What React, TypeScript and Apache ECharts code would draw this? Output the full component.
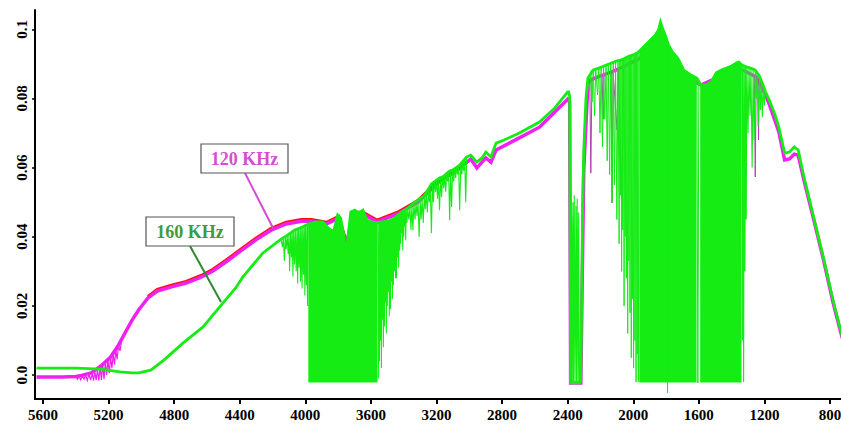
import React, { useEffect, useRef } from "react";
import * as echarts from "echarts";

const X_TICKS = [5600, 5200, 4800, 4400, 4000, 3600, 3200, 2800, 2400, 2000, 1600, 1200, 800];
const Y_TICKS = [0, 0.02, 0.04, 0.06, 0.08, 0.1];
const Y_TICK_LABELS = ["0.0", "0.02", "0.04", "0.06", "0.08", "0.1"];

const LABEL_120 = "120 KHz";
const LABEL_160 = "160 KHz";

type P = [number, number];

// ---- 120 KHz (magenta), main trace ----
const MAGENTA: P[] = [
  [5640, -0.0006], [5482, -0.0006], [5400, -0.0004], [5365, -0.0001], [5306, 0.0006], [5247, 0.0026],
  [5188, 0.0052], [5143, 0.0084], [5103, 0.0119], [5057, 0.0159], [5017, 0.0188], [4960, 0.0223],
  [4903, 0.0243], [4817, 0.0255], [4727, 0.0266], [4636, 0.0283], [4564, 0.0301], [4485, 0.0327],
  [4394, 0.0359], [4302, 0.0391], [4209, 0.0419], [4117, 0.0437], [4025, 0.0445], [3963, 0.0445],
  [3871, 0.0437], [3797, 0.0454], [3748, 0.0376], [3711, 0.0466], [3649, 0.0466], [3563, 0.0443],
  [3438, 0.0466], [3313, 0.05], [3188, 0.0558], [3065, 0.0596], [2991, 0.0625], [2954, 0.0599],
  [2899, 0.0628], [2868, 0.0616], [2837, 0.0651], [2695, 0.0686], [2572, 0.0717], [2400, 0.0798],
  [2388, 0.079], [2382, -0.0023], [2320, -0.0023], [2302, 0.0593], [2277, 0.0839], [2265, 0.0853],
  [2203, 0.0865], [2135, 0.0876], [2062, 0.0891], [1957, 0.0917], [1834, 0.0969], [1692, 0.0868],
  [1588, 0.0839], [1356, 0.0888], [1250, 0.0862], [1194, 0.0812], [1171, 0.0784], [1112, 0.0703],
  [1077, 0.0622], [1047, 0.0625], [1018, 0.0639], [994, 0.0636], [959, 0.0564], [900, 0.0451],
  [841, 0.0336], [782, 0.0211], [735, 0.0124], [720, 0.01],
];
// magenta hairline absorption dips
const MAGENTA_DIPS_1: P[] = [
  [5400, -0.0004], [5390, -0.0012], [5380, -0.0003], [5370, -0.0014], [5360, -0.0002], [5350, -0.0012],
  [5340, 0.0], [5330, -0.0016], [5320, 0.0003], [5310, -0.0015], [5300, 0.0005], [5292, -0.0016],
  [5284, 0.001], [5276, -0.0015], [5268, 0.0015], [5260, -0.0016], [5252, 0.0023], [5244, -0.0014],
  [5236, 0.003], [5228, -0.0012], [5220, 0.0037], [5212, 0.0], [5204, 0.0044], [5196, 0.0005],
  [5188, 0.0052], [5180, 0.002], [5172, 0.006], [5164, 0.003], [5156, 0.0072], [5148, 0.0045],
  [5140, 0.0084], [5130, 0.007], [5120, 0.0104],
];
const MAGENTA_DIPS_2: P[] = [
  [2265, 0.0853], [2259, 0.0584], [2252, 0.0856], [2190, 0.0866], [2184, 0.074], [2178, 0.0868],
  [2135, 0.0876], [2129, 0.0498], [2123, 0.0876], [2099, 0.0709], [2092, 0.0882], [2068, 0.0498],
  [2062, 0.0891],
];
const MAGENTA_DIPS_3: P[] = [
  [1262, 0.0866], [1256, 0.0573], [1250, 0.0862], [1240, 0.0858], [1236, 0.068], [1232, 0.0855],
];

// red trace peeking above the magenta one
const RED: P[] = [
  [4960, 0.0227], [4903, 0.0248], [4817, 0.026], [4727, 0.0271], [4636, 0.0288], [4564, 0.0306],
  [4485, 0.0332], [4394, 0.0364], [4302, 0.0396], [4209, 0.0424], [4117, 0.0442], [4025, 0.045],
  [3963, 0.045], [3871, 0.0442], [3797, 0.0459], [3748, 0.0381], [3711, 0.0471], [3649, 0.0471],
  [3563, 0.0448], [3438, 0.0471], [3313, 0.0505], [3188, 0.0562],
];

// ---- 160 KHz (green), main trace (upper envelope) ----
const GREEN: P[] = [
  [5640, 0.002], [5582, 0.002], [5400, 0.002], [5247, 0.0017], [5131, 0.0009], [5057, 0.0006],
  [5017, 0.0006], [4943, 0.0014], [4863, 0.0043], [4745, 0.0093], [4624, 0.0139], [4503, 0.0208],
  [4425, 0.0252], [4382, 0.0283], [4259, 0.0353], [4148, 0.0393], [4117, 0.0402], [4068, 0.0419],
  [4018, 0.0428], [3982, 0.0437], [3932, 0.0443], [3895, 0.0443], [3859, 0.0425], [3828, 0.0414],
  [3803, 0.0463], [3785, 0.0454], [3766, 0.0405], [3754, 0.0338], [3742, 0.0391], [3723, 0.0472],
  [3699, 0.0477], [3674, 0.0469], [3649, 0.0477], [3625, 0.0448], [3600, 0.0443], [3563, 0.044],
  [3531, 0.0443], [3494, 0.0445], [3456, 0.0454], [3413, 0.0472], [3381, 0.048], [3338, 0.0498],
  [3306, 0.0509], [3275, 0.0518], [3231, 0.0553], [3182, 0.057], [3163, 0.0573], [3120, 0.059],
  [3102, 0.0593], [3059, 0.0607], [3016, 0.0631], [2991, 0.0636], [2954, 0.0616], [2923, 0.0628],
  [2899, 0.0645], [2868, 0.0631], [2837, 0.0671], [2788, 0.068], [2695, 0.07], [2572, 0.0732],
  [2480, 0.0772], [2400, 0.0819], [2394, 0.0819], [2388, 0.0807], [2382, -0.0023], [2327, -0.0023],
  [2320, -0.0017], [2308, 0.0506], [2302, 0.0651], [2289, 0.0796], [2277, 0.0859], [2246, 0.0882],
  [2209, 0.0888], [2178, 0.0894], [2148, 0.09], [2105, 0.0908], [2074, 0.0911], [2025, 0.0923],
  [2000, 0.0926], [1969, 0.0934], [1957, 0.094], [1926, 0.0955], [1895, 0.0969], [1865, 0.0984],
  [1846, 0.0998], [1834, 0.1021], [1822, 0.1004], [1803, 0.0981], [1785, 0.0955], [1760, 0.0934],
  [1729, 0.0917], [1692, 0.0882], [1649, 0.0868], [1612, 0.0859], [1588, 0.0839], [1556, 0.0839],
  [1525, 0.0848], [1494, 0.0874], [1463, 0.0882], [1431, 0.0888], [1400, 0.0894], [1369, 0.0903],
  [1356, 0.0905], [1338, 0.0897], [1306, 0.0891], [1269, 0.0885], [1256, 0.0882], [1231, 0.0865],
  [1213, 0.0845], [1194, 0.082], [1171, 0.0796], [1135, 0.0752], [1112, 0.0717], [1077, 0.0642],
  [1047, 0.0645], [1018, 0.066], [994, 0.0651], [959, 0.0573], [900, 0.0457], [841, 0.0341],
  [782, 0.0217], [735, 0.013], [720, 0.0104],
];

// green hairline absorption lines (envelope -> depth -> envelope)
const GREEN_DIPS_1: P[] = [
  [4148, 0.0393], [4140, 0.037], [4134, 0.0396], [4128, 0.033], [4122, 0.04], [4117, 0.0365],
  [4111, 0.0404], [4105, 0.035], [4100, 0.0408], [4096, 0.03], [4090, 0.0412], [4085, 0.034],
  [4080, 0.0415], [4076, 0.0285], [4071, 0.0418], [4066, 0.032], [4061, 0.042], [4056, 0.03],
  [4051, 0.0422], [4047, 0.0265], [4043, 0.0425], [4038, 0.031], [4033, 0.0426], [4029, 0.027],
  [4025, 0.0427], [4020, 0.025], [4016, 0.0429], [4011, 0.029], [4007, 0.0431], [4003, 0.023],
  [3999, 0.0433], [3994, 0.026], [3990, 0.0435], [3987, 0.02], [3983, 0.0437],
];
const GREEN_DIPS_2: P[] = [
  [3558, 0.0441], [3553, -0.001], [3550, 0.0442], [3548, 0.004], [3545, 0.0443], [3542, 0.01],
  [3539, 0.0443], [3536, 0.002], [3533, 0.0443], [3530, 0.016], [3527, 0.0444], [3524, 0.008],
  [3521, 0.0444], [3518, 0.014], [3515, 0.0445], [3512, 0.021], [3509, 0.0445], [3506, 0.012],
  [3503, 0.0445], [3500, 0.02], [3497, 0.0445], [3494, 0.024], [3491, 0.0446], [3488, 0.017],
  [3485, 0.0448], [3481, 0.019], [3478, 0.045], [3475, 0.027], [3472, 0.0452], [3469, 0.022],
  [3466, 0.0453], [3463, 0.026], [3460, 0.0454], [3456, 0.03], [3453, 0.0456], [3450, 0.028],
  [3447, 0.0458], [3444, 0.028], [3441, 0.046], [3438, 0.034], [3435, 0.0465], [3431, 0.031],
  [3428, 0.0467], [3425, 0.036], [3422, 0.0469], [3419, 0.038], [3416, 0.047], [3413, 0.041],
  [3410, 0.0473], [3406, 0.036], [3403, 0.0475], [3400, 0.04], [3397, 0.0476], [3394, 0.043],
  [3391, 0.0477], [3388, 0.039], [3385, 0.0478], [3381, 0.044], [3375, 0.048], [3369, 0.045],
  [3362, 0.0485], [3356, 0.042], [3350, 0.049], [3344, 0.0419], [3338, 0.0498], [3331, 0.045],
  [3325, 0.05], [3319, 0.046], [3313, 0.0502], [3306, 0.0399], [3300, 0.0508], [3294, 0.045],
  [3288, 0.051], [3281, 0.044], [3275, 0.0518], [3269, 0.048], [3263, 0.0525], [3256, 0.047],
  [3250, 0.0535], [3244, 0.05], [3238, 0.054], [3231, 0.0411], [3225, 0.0556], [3219, 0.05],
  [3213, 0.056], [3206, 0.053], [3200, 0.0563], [3194, 0.051], [3188, 0.0567], [3182, 0.0477],
  [3175, 0.0571], [3169, 0.0515], [3163, 0.0573], [3156, 0.054], [3150, 0.0578], [3144, 0.053],
  [3138, 0.0582], [3132, 0.056], [3126, 0.0588], [3120, 0.0448], [3114, 0.059], [3108, 0.0486],
  [3102, 0.0593], [3095, 0.056], [3089, 0.0597], [3083, 0.057], [3077, 0.06], [3071, 0.058],
  [3065, 0.0603], [3059, 0.0477], [3052, 0.061], [3046, 0.058], [3040, 0.0615], [3034, 0.059],
  [3028, 0.0622], [3022, 0.05], [3016, 0.0631],
];
const GREEN_NOTCH: P[] = [
  [2380, -0.0023], [2376, 0.046], [2372, -0.0023], [2368, 0.05], [2364, -0.0023], [2360, 0.052],
  [2355, -0.0023], [2350, 0.049], [2346, -0.0023], [2342, 0.051], [2337, -0.0023], [2333, 0.047],
  [2329, -0.0023],
];
const GREEN_DIPS_3: P[] = [
  [2274, 0.0856], [2266, 0.082], [2259, 0.0878], [2251, 0.079], [2244, 0.0883], [2236, 0.075],
  [2229, 0.0886], [2218, 0.081], [2210, 0.0888], [2203, 0.07], [2196, 0.0891], [2188, 0.066],
  [2181, 0.0894], [2174, 0.074], [2166, 0.0897], [2159, 0.062], [2152, 0.0899], [2144, 0.058],
  [2137, 0.0902], [2129, 0.05], [2122, 0.0905], [2115, 0.055], [2108, 0.0907], [2100, 0.045],
  [2093, 0.091], [2086, 0.038], [2082, 0.0913], [2078, 0.052], [2075, 0.0915], [2071, 0.03],
  [2067, 0.0916], [2064, 0.042], [2060, 0.0917], [2056, 0.02], [2052, 0.0919], [2049, 0.04],
  [2045, 0.092], [2042, 0.028], [2038, 0.0922], [2034, 0.012], [2031, 0.0923], [2027, 0.033],
  [2023, 0.0924], [2020, 0.018], [2016, 0.0925], [2012, 0.005], [2009, 0.0926], [2005, 0.022],
  [2001, 0.0927], [1998, 0.002], [1994, 0.0929], [1990, 0.01], [1987, 0.0931], [1983, -0.002],
  [1979, 0.0933], [1976, 0.006], [1972, 0.0935], [1969, -0.002], [1965, 0.0937],
];
const GREEN_DIPS_4: P[] = [[1797, 0.097], [1791, -0.0052], [1785, 0.0955]];
const GREEN_DIPS_5: P[] = [[1612, 0.0859], [1606, -0.0023], [1600, 0.0848]];
const GREEN_DIPS_6: P[] = [
  [1338, 0.0897], [1334, 0.01], [1331, 0.0896], [1327, -0.002], [1323, 0.0894], [1319, 0.03],
  [1315, 0.0893], [1311, 0.045], [1307, 0.0891], [1300, 0.07], [1294, 0.089], [1288, 0.075],
  [1282, 0.0888], [1275, 0.06], [1269, 0.0885], [1263, 0.068], [1256, 0.0882], [1250, 0.08],
  [1244, 0.0875], [1238, 0.072], [1231, 0.0865], [1225, 0.0767], [1219, 0.0855], [1213, 0.0746],
  [1206, 0.0838], [1200, 0.078], [1194, 0.082],
];

// dense absorption bands (green fill down to the band floor)
const BAND_FLOOR = -0.0022;
const BAND_1: P[] = [
  [3982, 0.0437], [3932, 0.0443], [3895, 0.0443], [3859, 0.0425], [3828, 0.0414], [3803, 0.0463],
  [3785, 0.0454], [3766, 0.0405], [3754, 0.0338], [3742, 0.0391], [3723, 0.0472], [3699, 0.0477],
  [3674, 0.0469], [3649, 0.0477], [3625, 0.0448], [3600, 0.0443], [3560, 0.044],
];
const BAND_2: P[] = [
  [1963, 0.0937], [1957, 0.094], [1926, 0.0955], [1895, 0.0969], [1865, 0.0984], [1846, 0.0998],
  [1834, 0.1021], [1822, 0.1004], [1803, 0.0981], [1785, 0.0955], [1760, 0.0934], [1729, 0.0917],
  [1692, 0.0882], [1649, 0.0868], [1614, 0.0859],
];
const BAND_3: P[] = [
  [1592, 0.0839], [1556, 0.0839], [1525, 0.0848], [1494, 0.0874], [1463, 0.0882], [1431, 0.0888],
  [1400, 0.0894], [1369, 0.0903], [1356, 0.0905], [1340, 0.0897],
];

const SERIF = '"Liberation Serif", "Times New Roman", serif';
const GREEN_C = "#14ec14";
const MAGENTA_C = "#f021f0";

function lineSeries(data: P[], color: string, width: number, z: number) {
  return {
    type: "line", data, showSymbol: false, symbol: "none", silent: true, z,
    lineStyle: { color, width, join: "miter" },
  };
}

function bandSeries(data: P[]) {
  return {
    type: "line", data, showSymbol: false, symbol: "none", silent: true, z: 3,
    lineStyle: { width: 0, color: GREEN_C },
    areaStyle: { color: GREEN_C, opacity: 1, origin: BAND_FLOOR },
  };
}

export default function App() {
  const ref = useRef<HTMLDivElement>(null);
  useEffect(() => {
    const chart = echarts.init(ref.current!, null, { renderer: "svg", width: 841, height: 433 });
    chart.setOption({
      animation: false,
      backgroundColor: "#fff",
      grid: { left: 35, right: 0, top: 10, bottom: 34, containLabel: false, outerBoundsMode: "none" },
      xAxis: {
        type: "value",
        min: 733,
        max: 5649,
        inverse: true,
        axisLine: { show: true, onZero: false, lineStyle: { color: "#000", width: 2 } },
        axisTick: { show: true, customValues: X_TICKS, length: 5, lineStyle: { color: "#000", width: 2 } },
        axisLabel: {
          customValues: X_TICKS,
          formatter: (v: number) => String(v),
          fontFamily: SERIF,
          fontWeight: "bold",
          fontSize: 15,
          color: "#000",
          margin: 8,
        },
        splitLine: { show: false },
      },
      yAxis: {
        type: "value",
        min: -0.00694,
        max: 0.1056,
        axisLine: { show: true, onZero: false, lineStyle: { color: "#000", width: 2 } },
        axisTick: { show: true, customValues: Y_TICKS, length: 3, lineStyle: { color: "#000", width: 1.5 } },
        axisLabel: {
          customValues: Y_TICKS,
          rotate: 90,
          formatter: (v: number) => {
            const i = Y_TICKS.findIndex((t) => Math.abs(t - v) < 1e-9);
            return i >= 0 ? Y_TICK_LABELS[i] : "";
          },
          fontFamily: SERIF,
          fontWeight: "bold",
          fontSize: 15,
          color: "#000",
          margin: 6,
        },
        splitLine: { show: false },
      },
      series: [
        lineSeries(RED, "#ff1010", 3, 1),
        lineSeries(MAGENTA, MAGENTA_C, 3.5, 2),
        lineSeries(MAGENTA_DIPS_1, MAGENTA_C, 1.2, 2),
        lineSeries(MAGENTA_DIPS_2, "#b040b0", 1, 2),
        lineSeries(MAGENTA_DIPS_3, "#b040b0", 1, 2),
        bandSeries(BAND_1),
        bandSeries(BAND_2),
        bandSeries(BAND_3),
        lineSeries(GREEN_DIPS_1, GREEN_C, 1.1, 4),
        lineSeries(GREEN_DIPS_2, GREEN_C, 1.1, 4),
        lineSeries(GREEN_NOTCH, GREEN_C, 1.1, 4),
        lineSeries(GREEN_DIPS_3, GREEN_C, 1, 4),
        lineSeries(GREEN_DIPS_4, GREEN_C, 1, 4),
        lineSeries(GREEN_DIPS_5, GREEN_C, 1, 4),
        lineSeries(GREEN_DIPS_6, GREEN_C, 1.1, 4),
        lineSeries(GREEN, GREEN_C, 2.8, 5),
      ],
      graphic: [
        { type: "line", z: 10, shape: { x1: 245, y1: 173, x2: 273, y2: 228 }, style: { stroke: "#d24fd0", lineWidth: 2 } },
        { type: "line", z: 10, shape: { x1: 190, y1: 246, x2: 221, y2: 302 }, style: { stroke: "#2f8a2f", lineWidth: 2 } },
        { type: "rect", z: 11, shape: { x: 201, y: 144, width: 87, height: 29 }, style: { fill: "#fff", stroke: "#555", lineWidth: 1.2 } },
        {
          type: "text", z: 12, x: 244.5, y: 159,
          style: { text: LABEL_120, fill: "#d24fd0", font: `bold 18px ${SERIF}`, textAlign: "center", textVerticalAlign: "middle" },
        },
        { type: "rect", z: 11, shape: { x: 146, y: 217, width: 88, height: 29 }, style: { fill: "#fff", stroke: "#555", lineWidth: 1.2 } },
        {
          type: "text", z: 12, x: 190, y: 232,
          style: { text: LABEL_160, fill: "#3f9b3f", font: `bold 18px ${SERIF}`, textAlign: "center", textVerticalAlign: "middle" },
        },
      ],
    });
    return () => chart.dispose();
  }, []);
  return <div ref={ref} style={{ position: "fixed", left: 0, top: 0, width: 841, height: 433 }} />;
}
